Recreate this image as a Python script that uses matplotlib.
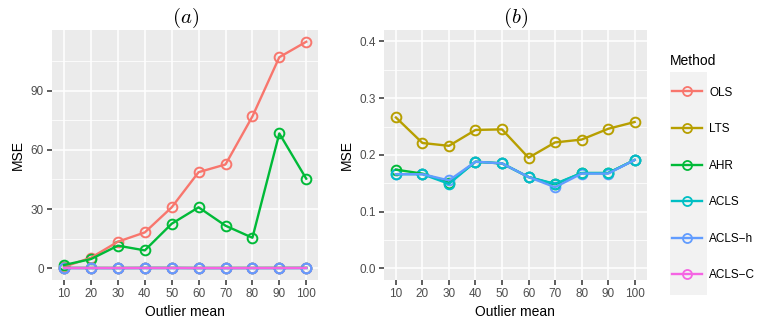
import numpy as np
import matplotlib
matplotlib.use("Agg")
import matplotlib.pyplot as plt
from matplotlib.lines import Line2D
from matplotlib.patches import Rectangle

plt.rcParams['mathtext.fontset'] = 'cm'
plt.rcParams['font.family'] = ['Liberation Sans', 'DejaVu Sans']

outlier_mean = [10, 20, 30, 40, 50, 60, 70, 80, 90, 100]
methods = ["OLS", "LTS", "AHR", "ACLS", "ACLS\u2212h", "ACLS\u2212C"]
colors = ["#F8766D", "#B79F00", "#00BA38", "#00BFC4", "#619CFF", "#F564E3"]

# panel (a)
ols_a = [0.8, 5.4, 13.5, 18.2, 30.9, 48.7, 52.6, 76.9, 106.9, 114.7]
lts_a = [0.27, 0.22, 0.22, 0.24, 0.25, 0.20, 0.22, 0.23, 0.25, 0.26]
ahr_a = [1.7, 4.7, 11.5, 9.1, 22.6, 30.9, 21.6, 15.5, 68.3, 45.4]
acls_a = [0.17, 0.17, 0.15, 0.19, 0.19, 0.16, 0.15, 0.17, 0.17, 0.19]
aclsh_a = [0.17, 0.17, 0.15, 0.19, 0.19, 0.16, 0.15, 0.17, 0.17, 0.19]
aclsc_a = [0.17, 0.17, 0.16, 0.19, 0.19, 0.16, 0.14, 0.17, 0.17, 0.19]

# panel (b)
lts_b = [0.266, 0.221, 0.216, 0.244, 0.245, 0.195, 0.222, 0.227, 0.246, 0.258]
acls_b = [0.174, 0.167, 0.151, 0.188, 0.185, 0.161, 0.148, 0.168, 0.168, 0.191]
aclsh_b = [0.166, 0.166, 0.149, 0.188, 0.185, 0.161, 0.149, 0.168, 0.168, 0.191]
aclsc_b = [0.166, 0.166, 0.155, 0.188, 0.185, 0.161, 0.143, 0.167, 0.167, 0.191]

series_a = [ols_a, lts_a, ahr_a, acls_a, aclsh_a, aclsc_a]
series_b = [lts_b, acls_b, aclsh_b, aclsc_b]
methods_b = methods[1:]
colors_b = colors[1:]

fig = plt.figure(figsize=(7.61, 3.31), dpi=100)
ax1 = fig.add_axes([0.0683, 0.154, 0.350, 0.755])
ax2 = fig.add_axes([0.5046, 0.154, 0.345, 0.755])

def style(ax, yticks, yminor, ylim, fmt):
    ax.set_facecolor("#EBEBEB")
    ax.set_xlim(5.5, 104.5)
    ax.set_ylim(*ylim)
    ax.set_xticks(outlier_mean)
    ax.set_yticks(yticks)
    ax.set_yticklabels([fmt.format(v) for v in yticks])
    ax.set_yticks(yminor, minor=True)
    ax.grid(True, which='major', color='white', lw=1.1)
    ax.grid(True, which='minor', axis='y', color='white', lw=0.55)
    ax.set_axisbelow(True)
    for s in ax.spines.values():
        s.set_visible(False)
    ax.tick_params(which='major', length=3.5, width=1.1, color='#333333',
                   labelsize=8.5, labelcolor='#4D4D4D', pad=2.5)
    ax.tick_params(which='minor', length=0)
    ax.set_xlabel("Outlier mean", fontsize=10, labelpad=3)
    ax.set_ylabel("MSE", fontsize=10, labelpad=4)

def draw(ax, series, cols):
    # points first (ACLS-h points last), lines on top
    order = list(range(len(series)))
    order = order[:-2] + [order[-1], order[-2]]
    for i in order:
        ax.plot(outlier_mean, series[i], ls='none', marker='o', ms=7, mfc='none',
                mec=cols[i], mew=1.4, zorder=2)
    for ys, c in zip(series, cols):
        ax.plot(outlier_mean, ys, color=c, lw=1.7, zorder=3)

draw(ax1, series_a, colors)
style(ax1, [0, 30, 60, 90], [15, 45, 75, 105], (-5.9, 120.6), "{:g}")
ax1.set_title("$(a)$", fontsize=15, pad=5)

draw(ax2, series_b, colors_b)
style(ax2, [0.0, 0.1, 0.2, 0.3, 0.4], [0.05, 0.15, 0.25, 0.35], (-0.0206, 0.42), "{:.1f}")
ax2.set_title("$(b)$", fontsize=15, pad=5)

# legend
fig.add_artist(Rectangle((670 / 761, 1 - 295 / 331), 37 / 761, 223 / 331,
                         transform=fig.transFigure, facecolor="#F2F2F2",
                         edgecolor='none', zorder=0))
fig.text(670 / 761, 1 - 61 / 331, "Method", fontsize=10, va='center', ha='left')
handles = [Line2D([], [], color=c, lw=1.7, marker='o', ms=6.5, mfc='none', mec=c, mew=1.3)
           for c in colors]
leg = fig.legend(handles, methods, loc='upper left', bbox_to_anchor=(668 / 761, 1 - 83 / 331),
                 frameon=False, fontsize=8.5, handlelength=2.6, labelspacing=2.08,
                 handletextpad=0.6, borderpad=0.3, borderaxespad=0)

fig.savefig("out.png", dpi=100)
